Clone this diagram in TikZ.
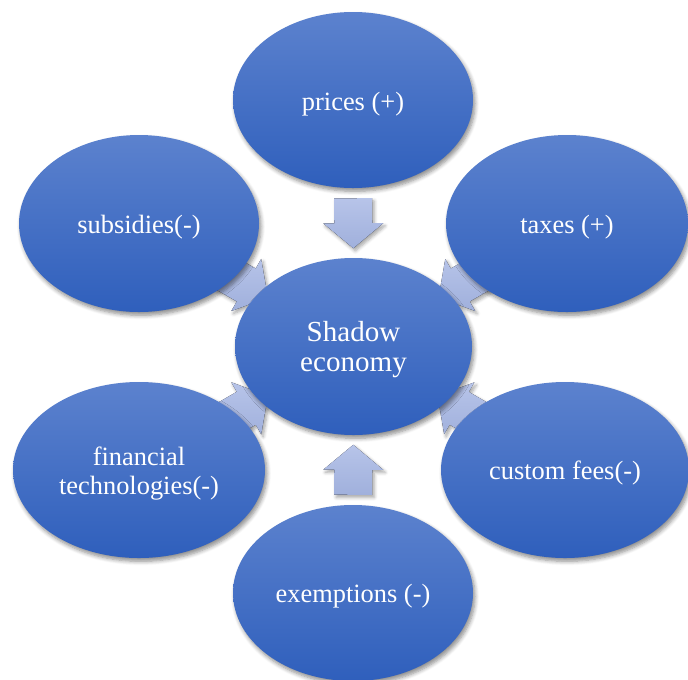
\documentclass[tikz,border=0pt]{standalone}
\usepackage{fontspec}
\setmainfont{Liberation Serif}
\usetikzlibrary{calc,shapes.geometric,shadows.blur}
\definecolor{eltop}{HTML}{5C82CE}
\definecolor{elbot}{HTML}{2F5FBC}
\definecolor{artop}{HTML}{B7C4E9}
\definecolor{arbot}{HTML}{A0B0DC}
\pgfdeclarelayer{background}
\pgfsetlayers{background,main}
\tikzset{
  bub/.style={ellipse, inner sep=0pt, outer sep=0pt, top color=eltop, bottom color=elbot,
    blur shadow={shadow xshift=1.5pt, shadow yshift=-2.5pt, shadow blur steps=6,
      shadow opacity=45, shadow blur radius=3pt}},
  txt/.style={text=white, align=center, inner sep=0pt, font=\fontsize{19.8}{21.8}\selectfont},
  arrowfill/.style={top color=artop, bottom color=arbot,
    blur shadow={shadow xshift=1.5pt, shadow yshift=-2pt, shadow blur steps=5,
      shadow opacity=35, shadow blur radius=2.5pt}}
}
\newcommand\myarrow[2]{%
  \coordinate (m) at ($(#1)!0.5!(#2)$);
  \coordinate (t) at ($(m)!18.75pt!(#1)$);
  \fill[arrowfill] ($(t)!14.25pt!90:(#2)$) -- ($(m)!14.25pt!90:(#2)$)
    -- ($(m)!22.5pt!90:(#2)$) -- ($(m)!18.75pt!(#2)$)
    -- ($(m)!22.5pt!-90:(#2)$) -- ($(m)!14.25pt!-90:(#2)$)
    -- ($(t)!14.25pt!-90:(#2)$) -- cycle;}
\begin{document}
\begin{tikzpicture}[x=0.75pt,y=-0.75pt]
\useasboundingbox (0,0) rectangle (688,679);
\node[bub, minimum width=180pt, minimum height=132pt] (pri) at (353,100) {};
\node[bub, minimum width=180pt, minimum height=132.75pt] (sub) at (139,223.5) {};
\node[bub, minimum width=181.5pt, minimum height=132.75pt] (tax) at (567,223.5) {};
\node[bub, minimum width=189pt, minimum height=132pt] (fin) at (139,470) {};
\node[bub, minimum width=186pt, minimum height=132pt] (cus) at (565,470) {};
\node[bub, minimum width=180pt, minimum height=132pt] (exe) at (353,593) {};
\node[bub, minimum width=177.75pt, minimum height=132.75pt] (c) at (353.5,346.5) {};
\node[txt] (tpri) at ([yshift=-3pt]pri.center) {prices (+)};
\node[txt] (tsub) at ([yshift=-2.5pt]sub.center) {subsidies(-)};
\node[txt] (ttax) at ([yshift=-2.5pt]tax.center) {taxes (+)};
\node[txt] (tfin) at ([yshift=-2.5pt]fin.center) {financial\\technologies(-)};
\node[txt] (tcus) at ([yshift=-2.5pt]cus.center) {custom fees(-)};
\node[txt] (texe) at ([yshift=-2.5pt]exe.center) {exemptions (-)};
\node[txt, font=\fontsize{21.8}{22.5}\selectfont] (tc) at ([yshift=-2.5pt]c.center) {Shadow\\economy};
\begin{pgfonlayer}{background}
\myarrow{pri}{c}
\myarrow{sub}{c}
\myarrow{tax}{c}
\myarrow{fin}{c}
\myarrow{cus}{c}
\myarrow{exe}{c}
\end{pgfonlayer}
\end{tikzpicture}
\end{document}
